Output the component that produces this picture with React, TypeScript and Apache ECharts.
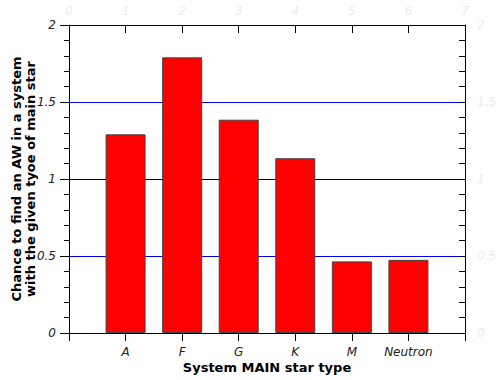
import React, { useEffect, useRef } from "react";
import * as echarts from "echarts";

const categories = ["A", "F", "G", "K", "M", "Neutron"];
const positions = [1, 2, 3, 4, 5, 6];
const values = [1.29, 1.79, 1.385, 1.135, 0.465, 0.475];
const xTickLabels = ["", "A", "F", "G", "K", "M", "Neutron", ""];
const yAxisTitle = "Chance to find an AW in a system\nwith the given tyoe of main star";
const xAxisTitle = "System MAIN star type";

export default function App() {
  const ref = useRef<HTMLDivElement>(null);
  useEffect(() => {
    if (!ref.current) return;
    const chart = echarts.init(ref.current, null, { renderer: "svg" });
    const font = "DejaVu Sans";
    const faint = "#ececec";
    chart.setOption({
      animation: false,
      backgroundColor: "#fff",
      grid: { left: 69, right: 35, top: 25, bottom: 47, containLabel: false, outerBoundsMode: "none" },
      xAxis: [
        {
          type: "value",
          min: 0,
          max: 7,
          interval: 1,
          position: "bottom",
          name: xAxisTitle,
          nameLocation: "middle",
          nameGap: 28,
          nameMoveOverlap: false,
          nameTextStyle: { fontFamily: font, fontWeight: "bold", fontSize: 13, color: "#000" },
          axisLine: { show: true, onZero: false, lineStyle: { color: "#000", width: 1 } },
          axisTick: { show: true, inside: false, length: 8, lineStyle: { color: "#000", width: 1 } },
          axisLabel: {
            margin: 13,
            fontFamily: font,
            fontStyle: "italic",
            fontSize: 12,
            color: "#222",
            formatter: (v: number) => xTickLabels[Math.round(v)] ?? "",
          },
          splitLine: { show: false },
        },
        {
          type: "value",
          min: 0,
          max: 7,
          interval: 1,
          position: "top",
          axisLine: { show: true, onZero: false, lineStyle: { color: "#000", width: 1 } },
          axisTick: { show: true, inside: true, length: 8, lineStyle: { color: "#000", width: 1 } },
          axisLabel: {
            margin: 8,
            fontFamily: font,
            fontStyle: "italic",
            fontSize: 12,
            color: faint,
          },
          splitLine: { show: false },
        },
      ],
      yAxis: [
        {
          type: "value",
          min: 0,
          max: 2,
          interval: 0.5,
          position: "left",
          name: yAxisTitle,
          nameLocation: "middle",
          nameGap: 32,
          nameMoveOverlap: false,
          nameTextStyle: {
            fontFamily: font,
            fontWeight: "bold",
            fontSize: 13,
            color: "#000",
            lineHeight: 14,
            align: "center",
          },
          axisLine: { show: true, onZero: false, lineStyle: { color: "#000", width: 1 } },
          axisTick: { show: true, inside: false, length: 9, lineStyle: { color: "#000", width: 1 } },
          minorTick: { show: true, splitNumber: 5, length: 5, lineStyle: { color: "#000", width: 1 } },
          axisLabel: {
            margin: 13,
            fontFamily: font,
            fontStyle: "italic",
            fontSize: 12,
            color: "#222",
          },
          splitLine: {
            show: true,
            lineStyle: { color: ["#000", "#0000ff"], width: 1 },
          },
        },
        {
          type: "value",
          min: 0,
          max: 2,
          interval: 0.5,
          position: "right",
          axisLine: { show: true, onZero: false, lineStyle: { color: "#000", width: 1 } },
          axisTick: { show: true, inside: true, length: 6, lineStyle: { color: "#000", width: 1 } },
          minorTick: { show: true, splitNumber: 5, length: 6, lineStyle: { color: "#000", width: 1 } },
          axisLabel: {
            margin: 12,
            fontFamily: font,
            fontStyle: "italic",
            fontSize: 12,
            color: faint,
          },
          splitLine: { show: false },
        },
      ],
      series: [
        {
          type: "bar",
          xAxisIndex: 0,
          yAxisIndex: 0,
          barWidth: 40,
          data: positions.map((p, i) => [p, values[i]]),
          itemStyle: { color: "#ff0000", borderColor: "#444", borderWidth: 1 },
          z: 3,
        },
      ],
    });
    return () => chart.dispose();
  }, []);
  return (
    <div
      ref={ref}
      style={{ position: "fixed", left: 0, top: 0, width: 500, height: 380 }}
      data-categories={categories.join(",")}
    />
  );
}
